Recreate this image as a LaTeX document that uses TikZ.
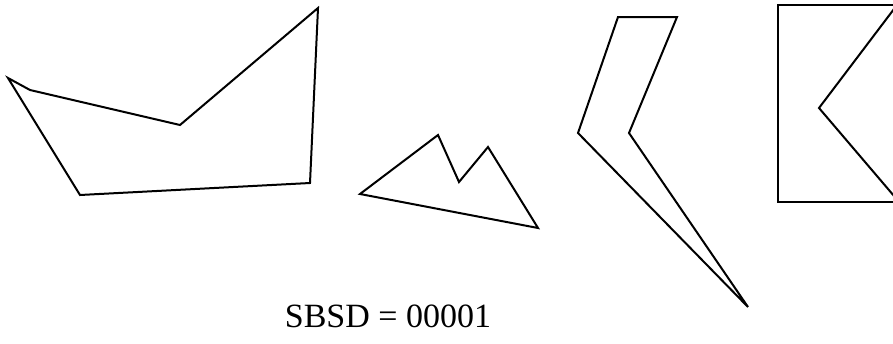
\documentclass[tikz,border=0pt]{standalone}
\usepackage{fontspec}
\setmainfont{Liberation Serif}
\begin{document}
\begin{tikzpicture}[x=1pt,y=-1pt,polyline/.style={draw=black,line width=2pt,line join=miter}]
\useasboundingbox (0,0) rectangle (893,343);
\clip (0,0) rectangle (893,343);
\draw[polyline] (8,78) -- (30,90) -- (180,125) -- (318,8) -- (310,183) -- (80,195) -- cycle;
\draw[polyline] (360,194) -- (438,135) -- (459,182) -- (488,147) -- (538,228) -- cycle;
\draw[polyline] (618,17) -- (677,17) -- (629,133) -- (748,307) -- (578,133) -- cycle;
\draw[polyline] (900,5) -- (778,5) -- (778,202) -- (900,202);
\draw[polyline] (897,5) -- (819,108) -- (900,203);
\node[font=\fontsize{34}{38}\selectfont,inner sep=0pt,anchor=base] (lbl) at (388,327) {SBSD = 00001};
\end{tikzpicture}
\end{document}
